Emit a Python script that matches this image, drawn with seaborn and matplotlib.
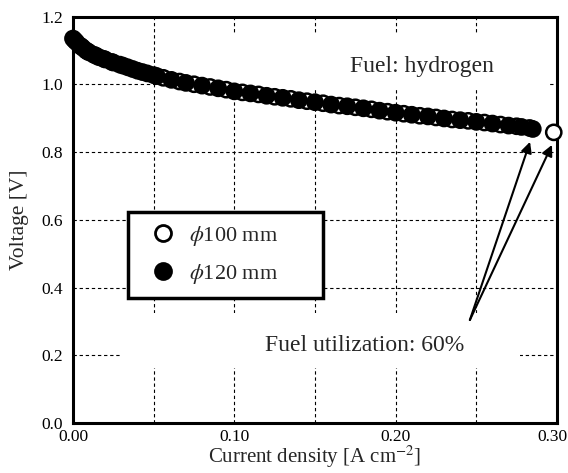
import pandas as pd
import matplotlib
matplotlib.use("Agg")
import matplotlib.pyplot as plt
import matplotlib.transforms as mtransforms
from matplotlib.lines import Line2D
from matplotlib.patches import Rectangle
import seaborn as sns

# phi 100 mm cell (open circles)
x_100 = [0.001, 0.005, 0.009, 0.014, 0.019, 0.025, 0.031, 0.037, 0.043, 0.050,
         0.056, 0.066, 0.075, 0.085, 0.095, 0.105, 0.115, 0.125, 0.135, 0.145,
         0.155, 0.165, 0.175, 0.185, 0.195, 0.205, 0.215, 0.225, 0.235, 0.245,
         0.255, 0.265, 0.275, 0.283, 0.298]
v_100 = [1.130, 1.112, 1.097, 1.085, 1.075, 1.064, 1.055, 1.045, 1.036, 1.027,
         1.019, 1.008, 1.000, 0.992, 0.984, 0.976, 0.970, 0.963, 0.957, 0.950,
         0.944, 0.937, 0.932, 0.926, 0.919, 0.913, 0.907, 0.902, 0.896, 0.892,
         0.887, 0.881, 0.876, 0.871, 0.858]

# phi 120 mm cell (filled circles)
x_120 = [0.000, 0.002, 0.004, 0.006, 0.008, 0.010, 0.013, 0.016, 0.020, 0.024,
         0.029, 0.034, 0.040, 0.046, 0.052, 0.061, 0.070, 0.080, 0.090, 0.100,
         0.110, 0.120, 0.130, 0.140, 0.150, 0.160, 0.170, 0.180, 0.190, 0.200,
         0.210, 0.220, 0.230, 0.240, 0.250, 0.260, 0.270, 0.278, 0.285]
v_120 = [1.135, 1.125, 1.115, 1.108, 1.100, 1.094, 1.087, 1.080, 1.073, 1.066,
         1.058, 1.050, 1.040, 1.032, 1.024, 1.013, 1.004, 0.996, 0.988, 0.979,
         0.973, 0.966, 0.960, 0.953, 0.947, 0.940, 0.935, 0.929, 0.922, 0.916,
         0.910, 0.905, 0.899, 0.894, 0.889, 0.884, 0.878, 0.874, 0.868]

labels = [r"$\phi$100 mm", r"$\phi$120 mm"]
x_ticks = [0.00, 0.10, 0.20, 0.30]
y_ticks = [0.0, 0.2, 0.4, 0.6, 0.8, 1.0, 1.2]

df = pd.DataFrame({
    "x": x_100 + x_120,
    "V": v_100 + v_120,
    "cell": [labels[0]] * len(x_100) + [labels[1]] * len(x_120),
})

sns.set_style("white")
plt.rcParams["font.family"] = ["Liberation Serif", "DejaVu Serif"]
plt.rcParams["mathtext.fontset"] = "stix"

fig = plt.figure(figsize=(5.68, 4.73), dpi=100)
ax = fig.add_axes([0.1285, 0.1057, 0.8521, 0.8594])

# white boxes behind the two notes (hide grid there)
ax.add_patch(Rectangle((0.262, 0.824), 0.719, 0.130, transform=ax.transAxes,
                       facecolor="white", edgecolor="none", zorder=1.5))
ax.add_patch(Rectangle((0.10, 0.135), 0.824, 0.136, transform=ax.transAxes,
                       facecolor="white", edgecolor="none", zorder=1.5))

sns.scatterplot(data=df, x="x", y="V", hue="cell",
                palette={labels[0]: "white", labels[1]: "black"},
                edgecolor="black", linewidth=1.8, s=120, legend=False,
                ax=ax, zorder=3, clip_on=False)

ax.set_xlim(0, 0.30)
ax.set_ylim(0, 1.2)
ax.set_xticks(x_ticks)
ax.set_xticklabels(["%.2f" % t for t in x_ticks])
ax.set_xticks([0.05, 0.15, 0.25], minor=True)
ax.set_yticks(y_ticks)
ax.set_yticklabels(["%.1f" % t for t in y_ticks])

ax.set_axisbelow(True)
ax.grid(True, axis="x", which="both", color="black", linestyle=(0, (3, 2.5)), linewidth=0.8)
ax.grid(True, axis="y", which="major", color="black", linestyle=(0, (3, 2.5)), linewidth=0.8)

ax.tick_params(which="both", direction="in", width=2, colors="black",
               labelsize=12.5, top=False, right=False)
ax.tick_params(which="major", length=14, pad=7)
ax.tick_params(axis="x", which="major", pad=4.5)
ax.tick_params(which="minor", length=7)
for sp in ax.spines.values():
    sp.set_linewidth(2.2)
    sp.set_color("black")
    sp.set_visible(True)

# nudge the last x tick label so it stays inside the figure
last = ax.get_xticklabels()[-1]
last.set_transform(last.get_transform() +
                   mtransforms.ScaledTranslation(-5 / 100, 0, fig.dpi_scale_trans))

ax.set_xlabel("Current density [A cm$^{-2}$]", fontsize=15, labelpad=-1)
ax.set_ylabel("Voltage [V]", fontsize=15.5, labelpad=9)

ax.text(0.1717, 1.051, "Fuel: hydrogen", fontsize=17, ha="left", va="center", zorder=4)
ax.text(0.119, 0.230, "Fuel utilization: 60%", fontsize=17, ha="left", va="center", zorder=4)

for tip in [(0.2833, 0.830), (0.2969, 0.821)]:
    ax.annotate("", xy=tip, xytext=(0.246, 0.304), zorder=5,
                arrowprops=dict(arrowstyle="-|>", color="black", lw=1.5,
                                mutation_scale=16, shrinkA=0, shrinkB=0))

handles = [
    Line2D([], [], ls="", marker="o", ms=11.5, mfc="white", mec="black", mew=2),
    Line2D([], [], ls="", marker="o", ms=12, mfc="black", mec="black", mew=1.5),
]
leg = ax.legend(handles, labels, loc="upper left",
                bbox_to_anchor=(0.114, 0.519, 0.403, 0.0), mode="expand",
                borderaxespad=0, fontsize=16, frameon=True, fancybox=False,
                framealpha=1, edgecolor="black", borderpad=0.55,
                labelspacing=0.6, handlelength=2.0, handletextpad=0.2)
leg.get_frame().set_linewidth(2.5)
leg.set_zorder(6)

fig.savefig("out.png", dpi=100)
